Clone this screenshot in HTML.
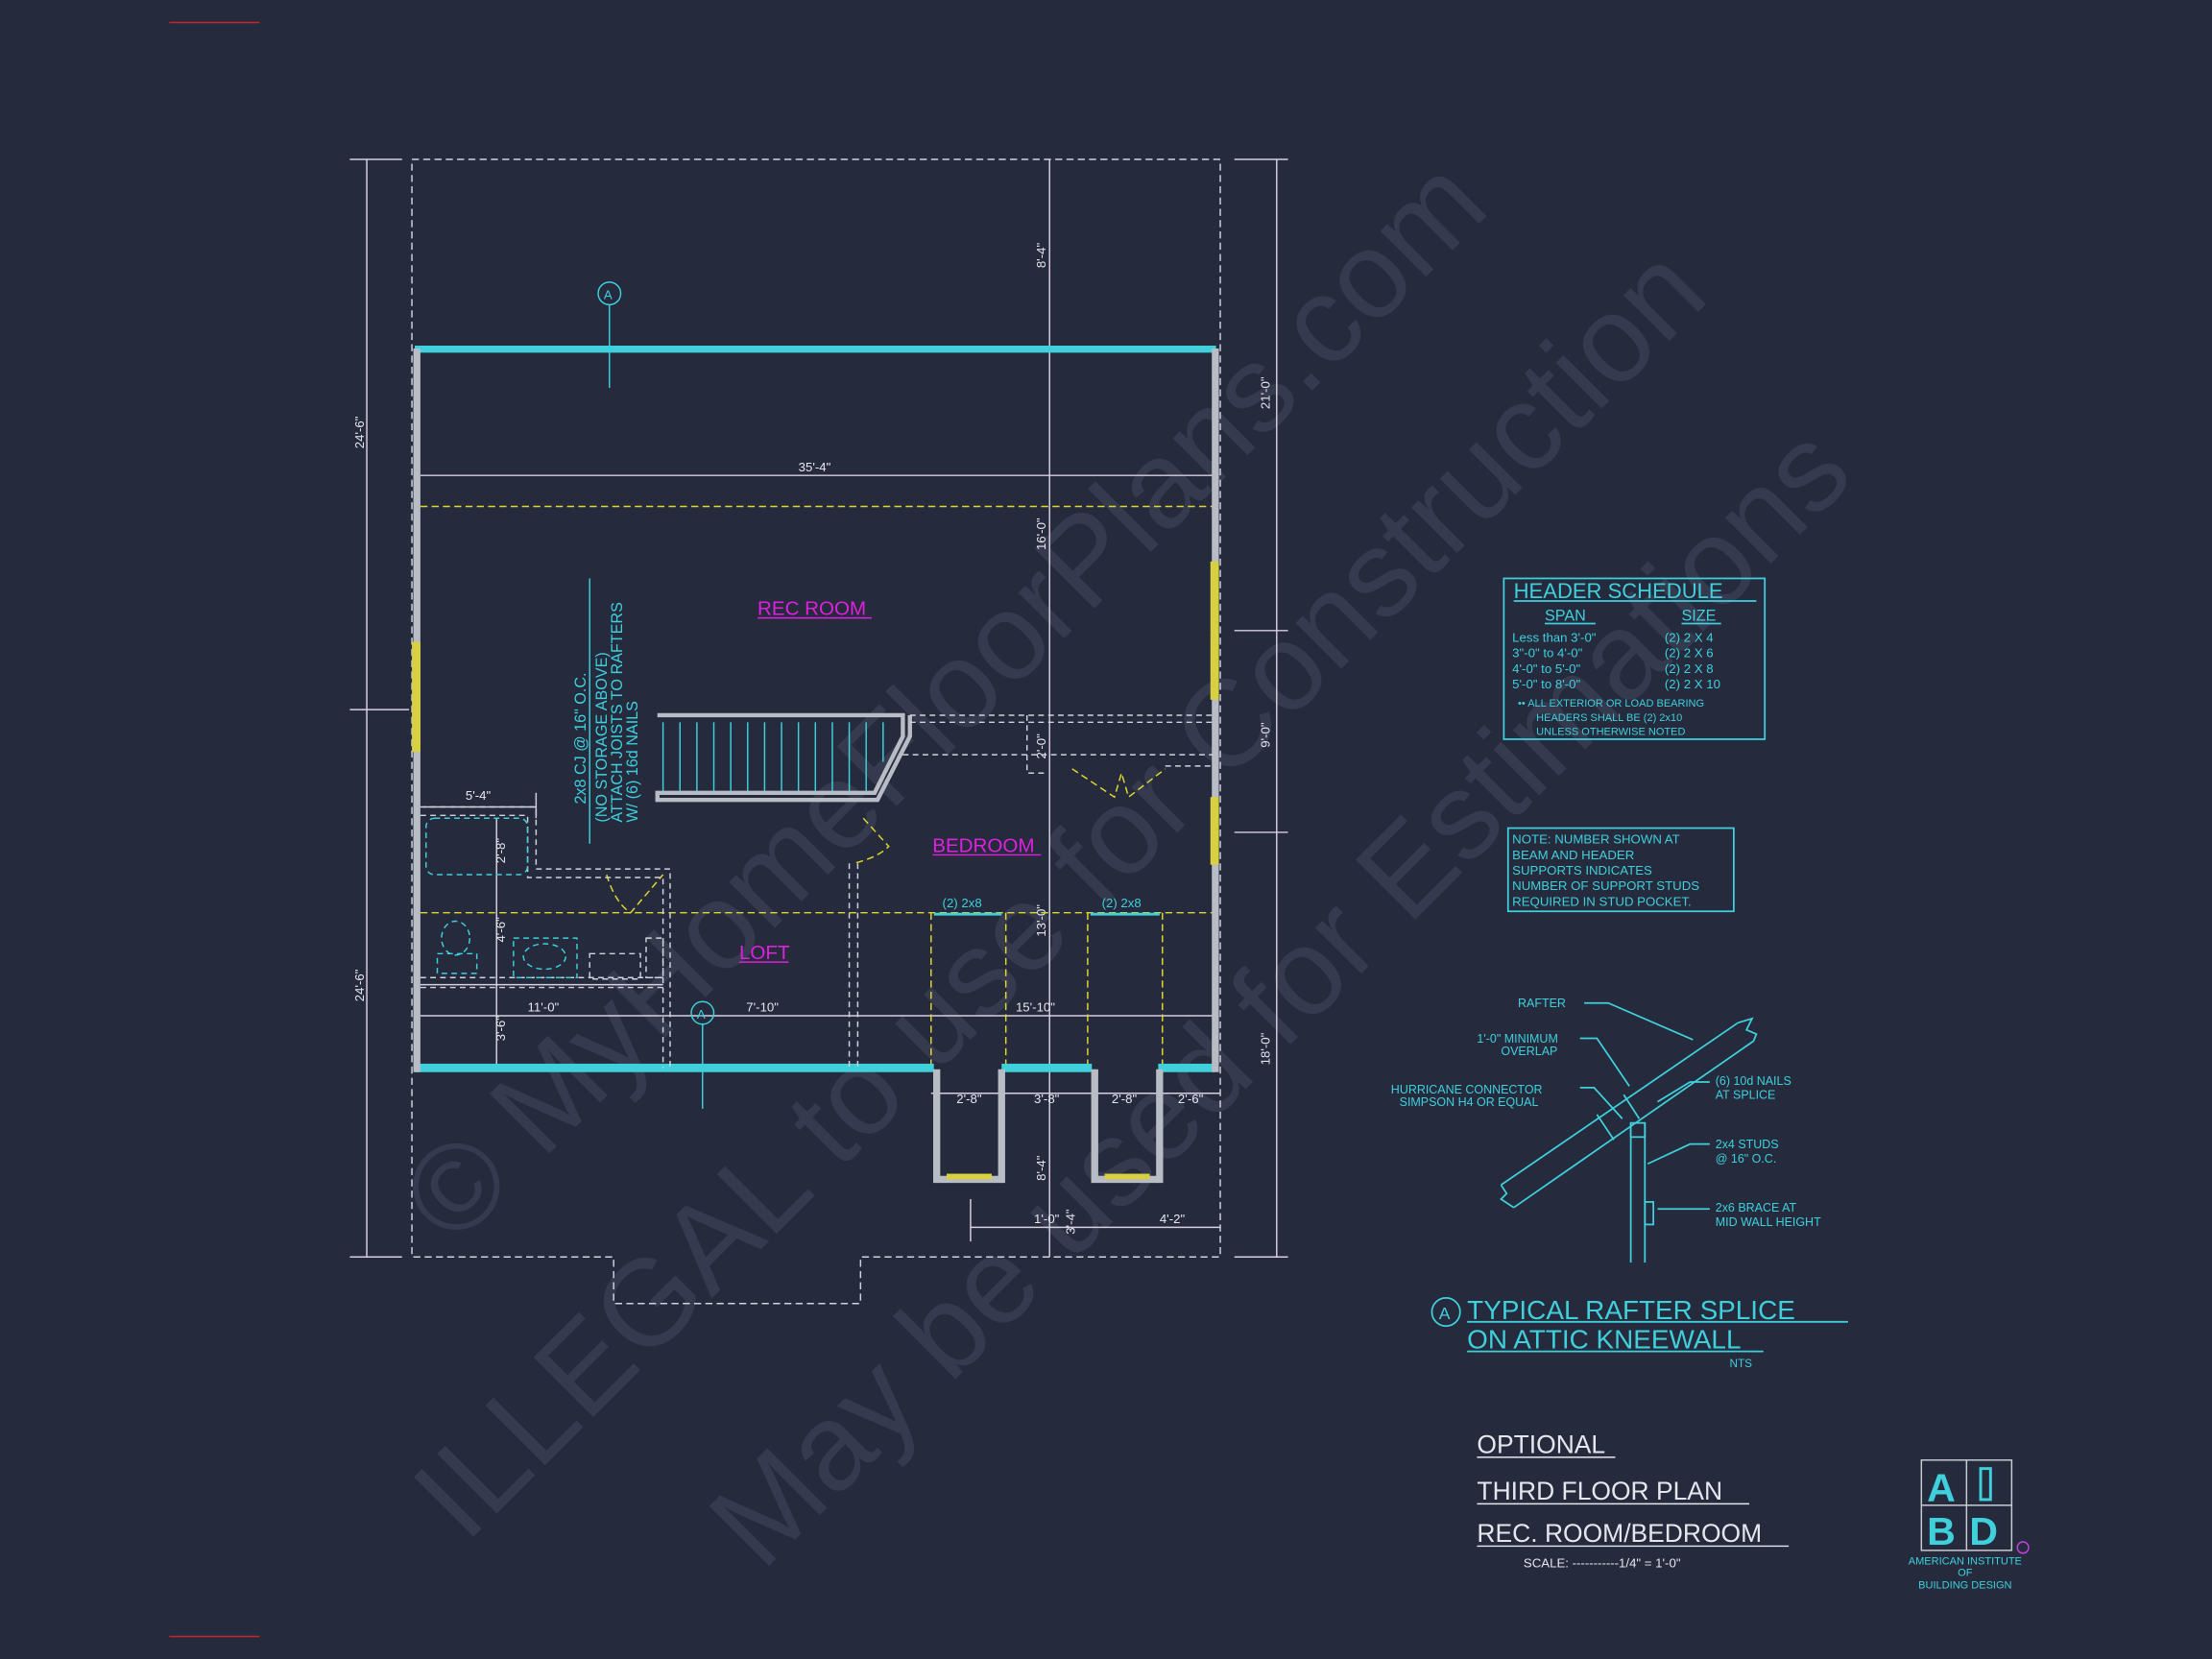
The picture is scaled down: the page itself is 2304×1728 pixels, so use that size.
<!DOCTYPE html>
<html><head><meta charset="utf-8"><style>
html,body{margin:0;padding:0;background:#252a3d;}
svg{display:block}
text{font-family:"Liberation Sans",sans-serif;}
</style></head><body>
<svg width="2304" height="1728" viewBox="0 0 1568 1176" preserveAspectRatio="none" xmlns="http://www.w3.org/2000/svg">
<rect width="1568" height="1176" fill="#252a3d"/>
<line x1="120" y1="16" x2="184" y2="16" stroke="#c0282c" stroke-width="1"/>
<line x1="120" y1="1160" x2="184" y2="1160" stroke="#c0282c" stroke-width="1"/>

<!-- watermarks -->
<g fill="#353a4e" font-family="Liberation Serif,serif" font-size="87">
<text transform="translate(322,885) rotate(-45)">© MyHomeFloorPlans.com</text>
<text transform="translate(330,1095) rotate(-45)">ILLEGAL to use for Construction</text>
<text transform="translate(540,1115) rotate(-45)">May be used for Estimations</text>
</g>

<!-- outer dashed outline -->
<g fill="none" stroke="#cfd3dc" stroke-width="1" stroke-dasharray="5,3">
<path d="M292,113 H865 V891 H610 V924 H435 V891 H292 Z"/>
</g>
<!-- dimension lines -->
<g stroke="#d8cfe0" stroke-width="1" fill="none">
<line x1="260" y1="113" x2="260" y2="891"/>
<line x1="248" y1="113" x2="285" y2="113"/><line x1="248" y1="503" x2="290" y2="503"/><line x1="248" y1="891" x2="285" y2="891"/>
<line x1="905" y1="113" x2="905" y2="891"/>
<line x1="875" y1="113" x2="913" y2="113"/><line x1="875" y1="447" x2="913" y2="447"/><line x1="875" y1="590" x2="913" y2="590"/><line x1="875" y1="891" x2="913" y2="891"/>
<line x1="744" y1="113" x2="744" y2="891"/>
<line x1="298" y1="337" x2="860" y2="337"/>
<line x1="298" y1="720" x2="860" y2="720"/>
<line x1="660" y1="775" x2="865" y2="775"/>
<line x1="688" y1="870" x2="865" y2="870"/>
<line x1="688" y1="850" x2="688" y2="880"/>
<line x1="300" y1="572" x2="380" y2="572"/><line x1="380" y1="562" x2="380" y2="580"/>
<line x1="352" y1="580" x2="352" y2="757"/>
<line x1="298" y1="698" x2="470" y2="698"/>
</g>
<g fill="#e6e6ee" font-size="9">
<text transform="translate(258,318) rotate(-90)">24'-6"</text>
<text transform="translate(258,710) rotate(-90)">24'-6"</text>
<text transform="translate(900,290) rotate(-90)">21'-0"</text>
<text transform="translate(900,530) rotate(-90)">9'-0"</text>
<text transform="translate(900,755) rotate(-90)">18'-0"</text>
<text transform="translate(741,190) rotate(-90)">8'-4"</text>
<text transform="translate(741,390) rotate(-90)">16'-0"</text>
<text transform="translate(741,664) rotate(-90)">13'-0"</text>
<text transform="translate(741,837) rotate(-90)">8'-4"</text>
<text transform="translate(741,538) rotate(-90)">2'-0"</text>
<text transform="translate(762,875) rotate(-90)">3'-4"</text>
<text x="566" y="334">35'-4"</text>
<text x="374" y="717">11'-0"</text>
<text x="529" y="717">7'-10"</text>
<text x="720" y="717">15'-10"</text>
<text x="330" y="567">5'-4"</text>
<text transform="translate(358,612) rotate(-90)">2'-8"</text>
<text transform="translate(358,668) rotate(-90)">4'-6"</text>
<text transform="translate(358,738) rotate(-90)">3'-6"</text>
<text x="678" y="782">2'-8"</text>
<text x="733" y="782">3'-8"</text>
<text x="788" y="782">2'-8"</text>
<text x="835" y="782">2'-6"</text>
<text x="733" y="867">1'-0"</text>
<text x="822" y="867">4'-2"</text>
</g>

<!-- yellow dashed -->
<g stroke="#e0d830" stroke-width="1" stroke-dasharray="5,3" fill="none">
<line x1="298" y1="359" x2="860" y2="359"/>
<line x1="298" y1="647" x2="860" y2="647"/>
<line x1="660" y1="647" x2="660" y2="757"/><line x1="713" y1="647" x2="713" y2="757"/>
<line x1="771" y1="647" x2="771" y2="757"/><line x1="824" y1="647" x2="824" y2="757"/>
<path d="M430,620 Q436,640 447,647 L470,620"/>
<path d="M612,580 L630,600 Q622,608 605,612"/>
<path d="M760,545 L790,565 L795,548 L800,565 L826,545"/>
</g>

<!-- walls -->
<rect x="294" y="245" width="568" height="5" fill="#3fd0dc"/>
<rect x="294" y="754" width="368" height="6" fill="#3fd0dc"/>
<rect x="710" y="754" width="64" height="6" fill="#3fd0dc"/>
<rect x="821" y="754" width="40" height="6" fill="#3fd0dc"/>
<rect x="293" y="247" width="5" height="513" fill="#b8bcc4"/>
<rect x="859" y="247" width="5" height="513" fill="#b8bcc4"/>
<rect x="292" y="455" width="6" height="78" fill="#d8d040"/>
<rect x="858" y="398" width="6" height="50" fill="#d8d040"/>
<rect x="858" y="448" width="6" height="48" fill="#d8d040"/>
<rect x="858" y="565" width="6" height="48" fill="#d8d040"/>
<!-- closets -->
<g fill="none" stroke="#b8bcc4" stroke-width="5">
<path d="M664,758 V836 H710 V758"/>
<path d="M776,758 V836 H822 V758"/>
</g>
<rect x="671" y="832" width="32" height="4" fill="#d8d040"/>
<rect x="783" y="832" width="32" height="4" fill="#d8d040"/>
<g stroke="#3fd0dc" stroke-width="2"><line x1="662" y1="648" x2="710" y2="648"/><line x1="773" y1="648" x2="822" y2="648"/></g>
<g fill="#3fd0dc" font-size="9"><text x="668" y="643">(2) 2x8</text><text x="781" y="643">(2) 2x8</text></g>

<!-- stair -->
<path d="M466,507 H640 V522 L620,562 H466 V567 H622 L645,522 V507" fill="none" stroke="#b8bcc4" stroke-width="3"/>
<g stroke="#3fd0dc" stroke-width="1">
<line x1="470" y1="512" x2="470" y2="561"/><line x1="482" y1="512" x2="482" y2="561"/><line x1="494" y1="512" x2="494" y2="561"/><line x1="506" y1="512" x2="506" y2="561"/><line x1="518" y1="512" x2="518" y2="561"/><line x1="530" y1="512" x2="530" y2="561"/><line x1="542" y1="512" x2="542" y2="561"/><line x1="554" y1="512" x2="554" y2="561"/><line x1="566" y1="512" x2="566" y2="561"/><line x1="578" y1="512" x2="578" y2="561"/><line x1="590" y1="512" x2="590" y2="561"/><line x1="602" y1="512" x2="602" y2="561"/><line x1="614" y1="512" x2="614" y2="561"/><line x1="626" y1="512" x2="626" y2="540"/>
</g>

<!-- interior dashed walls -->
<g fill="none" stroke="#cfd3dc" stroke-width="1" stroke-dasharray="4,3">
<path d="M645,507 H860 M645,512 H860 M640,535 H860 M728,507 V548 H740 M826,543 H860"/>
<path d="M602,612 V757 M608,612 V757"/>
<path d="M298,572 H380 V616 H475 V757 M298,578 H374 V622 H470 V757"/>
<path d="M298,693 H470 M298,700 H470"/>
<rect x="418" y="676" width="36" height="18"/>
<rect x="458" y="665" width="12" height="28"/>
</g>
<g fill="none" stroke="#3fd0dc" stroke-width="1" stroke-dasharray="4,3">
<rect x="302" y="580" width="72" height="40" rx="6"/>
<ellipse cx="323" cy="665" rx="10" ry="12"/>
<rect x="310" y="676" width="28" height="14"/>
<rect x="364" y="665" width="45" height="28"/>
<ellipse cx="386" cy="678" rx="15" ry="9"/>
</g>

<!-- section markers -->
<g stroke="#3fd0dc" stroke-width="1" fill="none">
<circle cx="432" cy="208" r="8"/><line x1="432" y1="216" x2="432" y2="275"/>
<circle cx="498" cy="718" r="8"/><line x1="498" y1="726" x2="498" y2="786"/>
<line x1="418" y1="410" x2="418" y2="598"/>
</g>
<g fill="#3fd0dc" font-size="9"><text x="428" y="212">A</text><text x="494" y="722">A</text></g>
<g fill="#3fd0dc" font-size="11">
<text transform="translate(415,570) rotate(-90)">2x8 CJ @ 16" O.C.</text>
<text transform="translate(430,583) rotate(-90)">(NO STORAGE ABOVE)</text>
<text transform="translate(441,583) rotate(-90)">ATTACH JOISTS TO RAFTERS</text>
<text transform="translate(452,583) rotate(-90)">W/ (6) 16d NAILS</text>
</g>

<!-- room labels -->
<g fill="#e020e0" font-size="14">
<text x="537" y="436">REC ROOM</text>
<text x="661" y="604">BEDROOM</text>
<text x="524" y="680">LOFT</text>
</g>
<g stroke="#e020e0" stroke-width="1"><line x1="537" y1="438" x2="618" y2="438"/><line x1="661" y1="606" x2="738" y2="606"/><line x1="524" y1="682" x2="559" y2="682"/></g>

<!-- header schedule -->
<g fill="none" stroke="#3fd0dc" stroke-width="1.2">
<rect x="1066" y="410" width="185" height="114"/>
<rect x="1069" y="587" width="160" height="59"/>
<line x1="1073" y1="426" x2="1245" y2="426"/>
<line x1="1095" y1="442" x2="1131" y2="442"/><line x1="1192" y1="442" x2="1220" y2="442"/>
</g>
<g fill="#3fd0dc">
<text x="1073" y="424" font-size="15">HEADER SCHEDULE</text>
<text x="1095" y="440" font-size="11">SPAN</text><text x="1192" y="440" font-size="11">SIZE</text>
<g font-size="9"><text x="1072" y="455">Less than 3'-0"</text><text x="1072" y="466">3"-0" to 4'-0"</text><text x="1072" y="477">4'-0" to 5'-0"</text><text x="1072" y="488">5'-0" to 8'-0"</text>
<text x="1180" y="455">(2) 2 X 4</text><text x="1180" y="466">(2) 2 X 6</text><text x="1180" y="477">(2) 2 X 8</text><text x="1180" y="488">(2) 2 X 10</text></g>
<g font-size="7.5"><text x="1076" y="501">•• ALL EXTERIOR OR LOAD BEARING</text><text x="1089" y="511">HEADERS SHALL BE (2) 2x10</text><text x="1089" y="521">UNLESS OTHERWISE NOTED</text></g>
<g font-size="9"><text x="1072" y="598">NOTE: NUMBER SHOWN AT</text><text x="1072" y="609">BEAM AND HEADER</text><text x="1072" y="620">SUPPORTS INDICATES</text><text x="1072" y="631">NUMBER OF SUPPORT STUDS</text><text x="1072" y="642">REQUIRED IN STUD POCKET.</text></g>
</g>

<!-- rafter detail -->
<g fill="none" stroke="#3fd0dc" stroke-width="1.2">
<path d="M1064,840 L1232,725 M1073,856 L1243,738"/>
<path d="M1232,725 L1242,722 L1238,730 L1245,733 L1243,738"/>
<path d="M1064,840 L1068,846 L1064,850 L1073,856"/>
<path d="M1156,796 V895 M1166,796 V895"/>
<rect x="1156" y="796" width="10" height="10"/>
<rect x="1166" y="852" width="6" height="16"/>
<path d="M1132,790 L1144,808 M1151,776 L1162,793"/>
<polyline points="1123,711 1140,711 1200,737"/>
<polyline points="1120,736 1132,736 1155,770"/>
<polyline points="1120,771 1130,771 1150,793"/>
<polyline points="1212,767 1198,767 1175,781"/>
<polyline points="1212,811 1198,811 1168,825"/>
<polyline points="1212,857 1175,857"/>
</g>
<g fill="#3fd0dc" font-size="8.5">
<text x="1076" y="714">RAFTER</text>
<text x="1047" y="739">1'-0" MINIMUM</text><text x="1064" y="748">OVERLAP</text>
<text x="986" y="775">HURRICANE CONNECTOR</text><text x="992" y="784">SIMPSON H4 OR EQUAL</text>
<text x="1216" y="769">(6) 10d NAILS</text><text x="1216" y="779">AT SPLICE</text>
<text x="1216" y="814">2x4 STUDS</text><text x="1216" y="824">@ 16" O.C.</text>
<text x="1216" y="859">2x6 BRACE AT</text><text x="1216" y="869">MID WALL HEIGHT</text>
</g>
<g fill="none" stroke="#3fd0dc" stroke-width="1.2"><circle cx="1025" cy="930" r="10"/><line x1="1040" y1="937" x2="1310" y2="937"/><line x1="1040" y1="958" x2="1250" y2="958"/></g>
<g fill="#3fd0dc"><text x="1020" y="935" font-size="12">A</text>
<text x="1040" y="935" font-size="19">TYPICAL RAFTER SPLICE</text>
<text x="1040" y="956" font-size="19">ON ATTIC KNEEWALL</text>
<text x="1226" y="969" font-size="8">NTS</text></g>

<!-- title -->
<g fill="#e6e6ee" font-size="18">
<text x="1047" y="1030">OPTIONAL</text>
<text x="1047" y="1063">THIRD FLOOR PLAN</text>
<text x="1047" y="1093">REC. ROOM/BEDROOM</text>
<text x="1080" y="1111" font-size="9">SCALE: -----------1/4" = 1'-0"</text>
</g>
<g stroke="#e6e6ee" stroke-width="1"><line x1="1047" y1="1033" x2="1145" y2="1033"/><line x1="1047" y1="1066" x2="1240" y2="1066"/><line x1="1047" y1="1096" x2="1268" y2="1096"/></g>

<!-- logo -->
<g stroke="#c8ccd4" stroke-width="1" fill="none"><rect x="1362" y="1035" width="64" height="64"/><line x1="1394" y1="1035" x2="1394" y2="1099"/><line x1="1362" y1="1067" x2="1426" y2="1067"/></g>
<g fill="#3fd0dc" font-weight="bold" font-size="28"><text x="1366" y="1064">A</text><text x="1366" y="1095">B</text><text x="1396" y="1095">D</text></g>
<rect x="1404" y="1041" width="7" height="22" fill="none" stroke="#3fd0dc" stroke-width="2"/>
<circle cx="1434" cy="1097" r="4" fill="none" stroke="#c040e0"/>
<g fill="#3fd0dc" font-size="7.5" text-anchor="middle"><text x="1393" y="1109">AMERICAN INSTITUTE</text><text x="1393" y="1117">OF</text><text x="1393" y="1126">BUILDING DESIGN</text></g>
</svg>
</body></html>
